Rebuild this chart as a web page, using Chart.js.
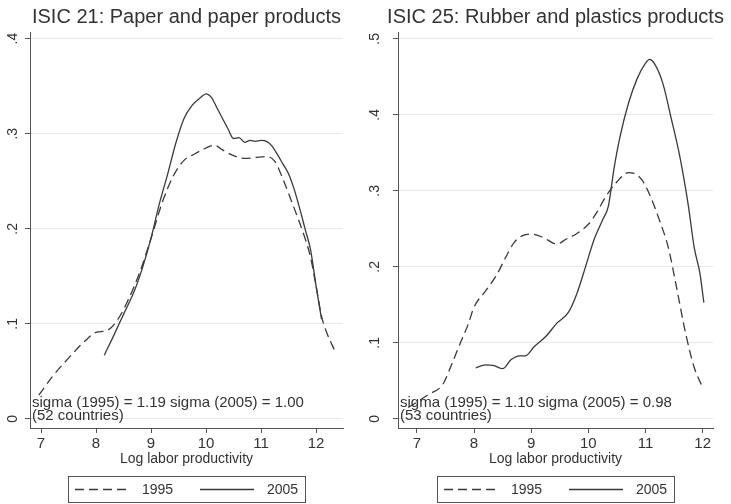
<!DOCTYPE html>
<html>
<head>
<meta charset="utf-8">
<script src="https://cdn.jsdelivr.net/npm/chart.js@4"></script>
<style>
  body { margin: 0; background: #fff; }
  canvas { position: absolute; top: 0; }
</style>
</head>
<body>
<canvas id="isic21" width="365" height="504" style="left:0"></canvas>
<canvas id="isic25" width="366" height="504" style="left:365px"></canvas>
<script>
// ISIC 21: Paper and paper products (kernel densities)
const x21_1995 = [6.96, 7.2, 7.5, 7.8, 8.0, 8.2, 8.4, 8.6, 8.8, 9.0, 9.2, 9.4, 9.6, 9.8, 10.0, 10.15, 10.3, 10.5, 10.7, 10.9, 11.1, 11.25, 11.4, 11.6, 11.8, 11.9, 12.0, 12.1, 12.2, 12.33];
const y21_1995 = [0.025, 0.044, 0.064, 0.082, 0.091, 0.093, 0.105, 0.127, 0.155, 0.19, 0.227, 0.255, 0.272, 0.279, 0.285, 0.288, 0.283, 0.277, 0.274, 0.275, 0.276, 0.271, 0.252, 0.222, 0.19, 0.17, 0.14, 0.108, 0.09, 0.073];
const x21_2005 = [8.15, 8.3, 8.5, 8.7, 8.85, 9.0, 9.15, 9.3, 9.45, 9.6, 9.75, 9.9, 10.0, 10.1, 10.2, 10.3, 10.4, 10.5, 10.6, 10.7, 10.8, 10.9, 11.0, 11.1, 11.2, 11.3, 11.4, 11.5, 11.6, 11.7, 11.8, 11.9, 12.0, 12.1];
const y21_2005 = [0.067, 0.085, 0.11, 0.135, 0.16, 0.19, 0.226, 0.257, 0.29, 0.316, 0.33, 0.338, 0.342, 0.338, 0.327, 0.316, 0.305, 0.295, 0.296, 0.291, 0.293, 0.292, 0.293, 0.292, 0.287, 0.278, 0.268, 0.258, 0.242, 0.222, 0.2, 0.178, 0.14, 0.105];

// ISIC 25: Rubber and plastics products
const x25_1995 = [6.85, 7.0, 7.2, 7.45, 7.6, 7.75, 7.9, 8.0, 8.2, 8.4, 8.55, 8.7, 8.85, 9.0, 9.2, 9.45, 9.6, 9.8, 10.0, 10.15, 10.3, 10.5, 10.7, 10.8, 10.95, 11.1, 11.25, 11.4, 11.55, 11.7, 11.85, 12.0];
const y25_1995 = [0.015, 0.022, 0.032, 0.045, 0.07, 0.098, 0.125, 0.147, 0.168, 0.19, 0.212, 0.232, 0.241, 0.243, 0.239, 0.23, 0.236, 0.244, 0.256, 0.272, 0.292, 0.312, 0.324, 0.323, 0.313, 0.29, 0.26, 0.225, 0.17, 0.113, 0.068, 0.041];
const x25_2005 = [8.03, 8.2, 8.35, 8.5, 8.65, 8.8, 8.9, 9.05, 9.25, 9.45, 9.65, 9.8, 9.95, 10.1, 10.25, 10.35, 10.45, 10.55, 10.7, 10.85, 11.0, 11.07, 11.15, 11.3, 11.45, 11.6, 11.75, 11.85, 11.95, 12.02];
const y25_2005 = [0.067, 0.071, 0.07, 0.066, 0.078, 0.083, 0.083, 0.095, 0.108, 0.126, 0.14, 0.165, 0.2, 0.236, 0.262, 0.28, 0.33, 0.37, 0.415, 0.447, 0.468, 0.473, 0.468, 0.442, 0.395, 0.345, 0.28, 0.226, 0.192, 0.153];

// tick labels
const xTicks = [7, 8, 9, 10, 11, 12];
const yTicks21 = [0, 0.1, 0.2, 0.3, 0.4];
const yTicks25 = [0, 0.1, 0.2, 0.3, 0.4, 0.5];
const seriesLabels = ['1995', '2005'];

const FONT = '"Liberation Sans", Arial, sans-serif';
const TEXT = '#333';
const LINE = '#3a3a3a';

const pts = (xs, ys) => xs.map((x, i) => ({ x: x, y: ys[i] }));
const fmtY = (v) => v === 0 ? '0' : v.toFixed(1).replace(/^0/, '');

// title, sigma note and boxed legend drawn in Stata style
const stataDecor = {
    id: 'stataDecor',
    afterDraw(chart, args, opts) {
        const ctx = chart.ctx;
        const a = chart.chartArea;
        const cx = (a.left + a.right) / 2;
        ctx.save();
        ctx.fillStyle = TEXT;
        ctx.font = '20px ' + FONT;
        ctx.textAlign = 'center';
        ctx.textBaseline = 'middle';
        ctx.fillText(opts.title, cx, 17);

        ctx.font = '15px ' + FONT;
        ctx.textAlign = 'left';
        ctx.textBaseline = 'alphabetic';
        opts.note.forEach((line, i) => ctx.fillText(line, a.left + 2, a.bottom - 21 + i * 13));

        const w = 237, h = 26, top = 476;
        const left = Math.round(cx - w / 2);
        ctx.strokeStyle = '#555';
        ctx.lineWidth = 1;
        ctx.strokeRect(left + 0.5, top + 0.5, w, h);
        const midY = top + h / 2 + 0.5;
        chart.data.datasets.forEach((ds, i) => {
            const x0 = left + 7 + i * 125;
            ctx.beginPath();
            ctx.setLineDash(ds.borderDash || []);
            ctx.strokeStyle = ds.borderColor;
            ctx.lineWidth = ds.borderWidth;
            ctx.moveTo(x0, midY);
            ctx.lineTo(x0 + 54, midY);
            ctx.stroke();
            ctx.setLineDash([]);
            ctx.font = '14px ' + FONT;
            ctx.textBaseline = 'middle';
            ctx.fillText(ds.label, x0 + 67, midY + 1);
        });
        ctx.restore();
    }
};

function makePanel(id, d1995, d2005, yTicks, yMin, yMax, xMin, xMax, yWidth, yPad, padRight, title, note) {
    return new Chart(document.getElementById(id), {
        type: 'line',
        data: {
            datasets: [{
                label: seriesLabels[0],
                data: d1995,
                borderColor: LINE,
                borderWidth: 1.3,
                borderDash: [9, 5],
                pointRadius: 0,
                cubicInterpolationMode: 'monotone'
            }, {
                label: seriesLabels[1],
                data: d2005,
                borderColor: LINE,
                borderWidth: 1.3,
                pointRadius: 0,
                cubicInterpolationMode: 'monotone'
            }]
        },
        options: {
            responsive: false,
            animation: false,
            devicePixelRatio: 1,
            layout: { padding: { left: 0, right: padRight, top: 32, bottom: 36 } },
            plugins: {
                legend: { display: false },
                tooltip: { enabled: false },
                stataDecor: { title: title, note: note }
            },
            scales: {
                x: {
                    type: 'linear',
                    min: xMin,
                    max: xMax,
                    afterBuildTicks: (s) => { s.ticks = xTicks.map(v => ({ value: v })); },
                    afterFit: (s) => { s.height = 40; },
                    border: { color: '#555', width: 1 },
                    grid: { drawOnChartArea: false, tickLength: 5, tickColor: '#555' },
                    ticks: { color: TEXT, font: { family: FONT, size: 15 }, padding: 2, maxRotation: 0 },
                    title: { display: true, text: 'Log labor productivity', color: TEXT, font: { family: FONT, size: 14 }, padding: { top: 0, bottom: 0 } }
                },
                y: {
                    min: yMin,
                    max: yMax,
                    afterBuildTicks: (s) => { s.ticks = yTicks.map(v => ({ value: v })); },
                    afterFit: (s) => { s.width = yWidth; },
                    border: { color: '#555', width: 1 },
                    grid: { color: '#e8e8e8', tickLength: 5, tickColor: '#555' },
                    ticks: {
                        color: TEXT,
                        font: { family: FONT, size: 14 },
                        minRotation: 90,
                        maxRotation: 90,
                        crossAlign: 'center',
                        padding: yPad,
                        callback: (v) => fmtY(v)
                    }
                }
            }
        },
        plugins: [stataDecor]
    });
}

makePanel('isic21', pts(x21_1995, y21_1995), pts(x21_2005, y21_2005), yTicks21,
    -0.0095, 0.407, 6.8, 12.49, 30, 6, 22,
    'ISIC 21: Paper and paper products',
    ['sigma (1995) = 1.19 sigma (2005) = 1.00', '(52 countries)']);

makePanel('isic25', pts(x25_1995, y25_1995), pts(x25_2005, y25_2005), yTicks25,
    -0.012, 0.509, 6.67, 12.18, 33, 12, 18,
    'ISIC 25: Rubber and plastics products',
    ['sigma (1995) = 1.10 sigma (2005) = 0.98', '(53 countries)']);
</script>
</body>
</html>
